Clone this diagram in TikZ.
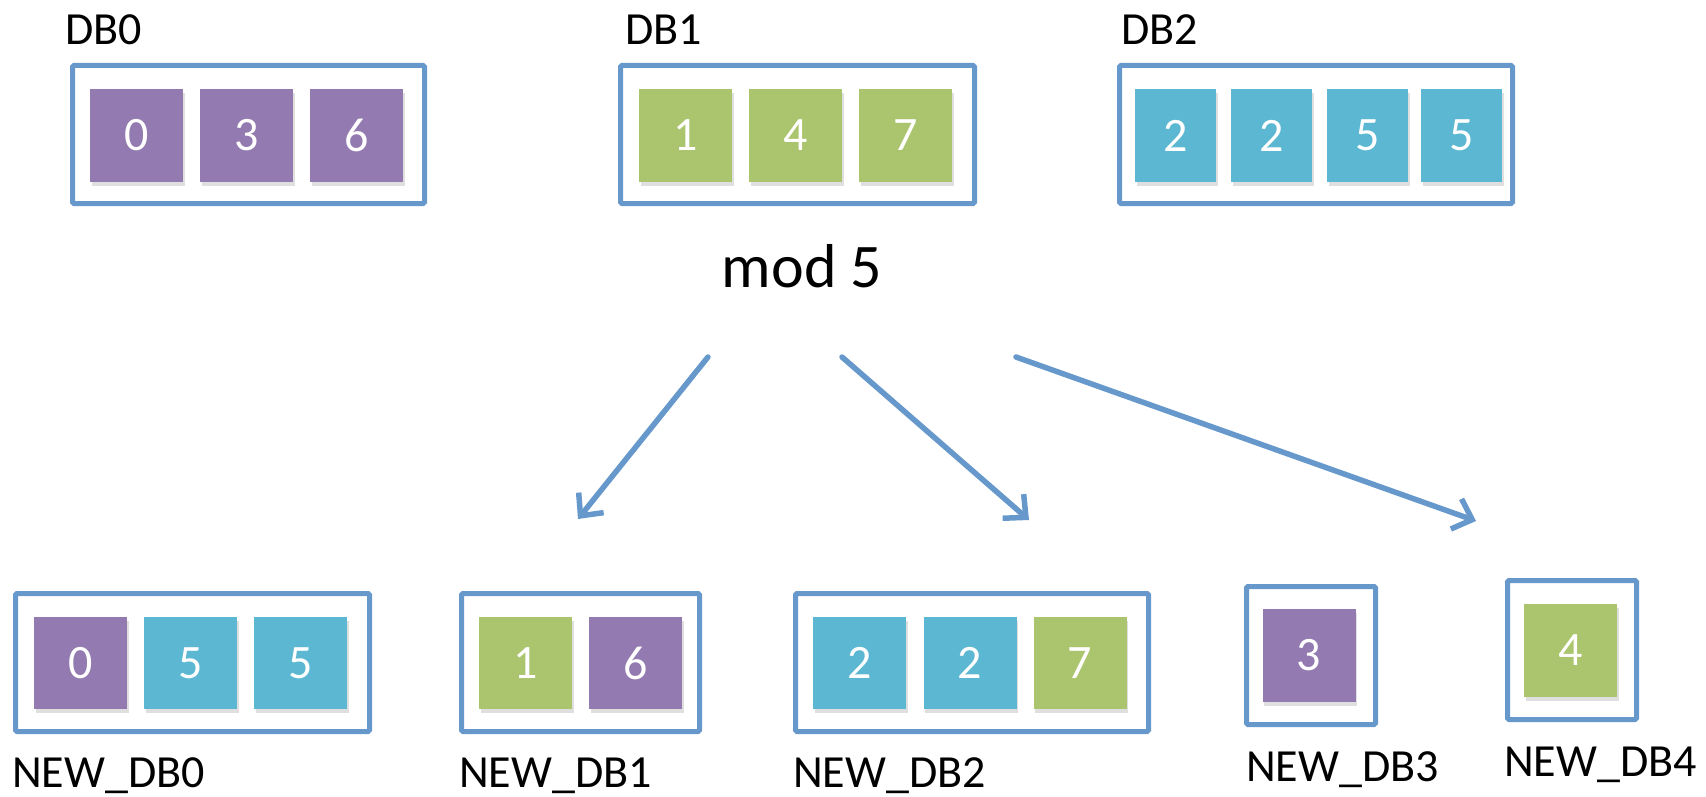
\documentclass[tikz,border=0pt]{standalone}
\usepackage{fontspec}
\setmainfont{Carlito}
\usetikzlibrary{arrows.meta,shadows}
\definecolor{cpurple}{HTML}{937AB0}
\definecolor{cgreen}{HTML}{ABC46E}
\definecolor{ccyan}{HTML}{5CB8D2}
\definecolor{cblue}{HTML}{6698CB}
\tikzset{
  cell/.style={rectangle, draw=none, text=white, inner sep=0pt,
    minimum height=93pt, minimum width=93pt,
    font=\fontsize{48}{52}\selectfont,
    drop shadow={opacity=0.25, shadow xshift=1.5pt, shadow yshift=-4pt}},
  pcell/.style={cell, fill=cpurple},
  gcell/.style={cell, fill=cgreen},
  ccell/.style={cell, fill=ccyan},
  dbbox/.style={rectangle, draw=cblue, line width=5pt, rounded corners=1.5pt, inner sep=0pt},
  dblabel/.style={anchor=base west, inner sep=0pt, font=\fontsize{46}{50}\selectfont},
  flow/.style={draw=cblue, line width=5.5pt, line cap=round,
    -{Straight Barb[length=17pt,width=32pt,line width=5.5pt]}}
}
\begin{document}
\begin{tikzpicture}[x=1pt,y=-1pt]
\useasboundingbox (0,0) rectangle (1706,797);
% top row
\node[dbbox, minimum width=352pt, minimum height=138pt] (db0) at (248.5,134.5) {};
\node[pcell] (a0) at (136.5,135.5) {0};
\node[pcell] (a1) at (246.5,135.5) {3};
\node[pcell] (a2) at (356.5,135.5) {6};
\node[dblabel] (l0) at (65,45) {DB0};

\node[dbbox, minimum width=354pt, minimum height=138pt] (db1) at (797.5,134.5) {};
\node[gcell] (b0) at (685.5,135.5) {1};
\node[gcell] (b1) at (795.5,135.5) {4};
\node[gcell] (b2) at (905.5,135.5) {7};
\node[dblabel] (l1) at (625,45) {DB1};

\node[dbbox, minimum width=393pt, minimum height=138pt] (db2) at (1316,134.5) {};
\node[ccell, minimum width=81pt] (c0) at (1175.5,135.5) {2};
\node[ccell, minimum width=81pt] (c1) at (1271.5,135.5) {2};
\node[ccell, minimum width=81pt] (c2) at (1367.5,135.5) {5};
\node[ccell, minimum width=81pt] (c3) at (1461.5,135.5) {5};
\node[dblabel] (l2) at (1121,45) {DB2};

\node[anchor=base, inner sep=0pt, font=\fontsize{62}{66}\selectfont] (mod) at (802,287) {mod 5};

% arrows
\coordinate (s1) at (708,357);
\coordinate (e1) at (578,519);
\coordinate (s2) at (842,357);
\coordinate (e2) at (1029,520);
\coordinate (s3) at (1016,357);
\coordinate (e3) at (1476,521);
\draw[flow] (s1) -- (e1);
\draw[flow] (s2) -- (e2);
\draw[flow] (s3) -- (e3);

% bottom row
\node[dbbox, minimum width=354pt, minimum height=138pt] (n0) at (192.5,662.5) {};
\node[pcell, minimum height=92pt] (d0) at (80.5,663) {0};
\node[ccell, minimum height=92pt] (d1) at (190.5,663) {5};
\node[ccell, minimum height=92pt] (d2) at (300.5,663) {5};
\node[dblabel] (m0) at (12,787) {NEW\_DB0};

\node[dbbox, minimum width=238pt, minimum height=138pt] (n1) at (580.5,662.5) {};
\node[gcell, minimum height=92pt] (e10) at (525.5,663) {1};
\node[pcell, minimum height=92pt] (e11) at (635.5,663) {6};
\node[dblabel] (m1) at (459,787) {NEW\_DB1};

\node[dbbox, minimum width=353pt, minimum height=138pt] (n2) at (972,662.5) {};
\node[ccell, minimum height=92pt] (f0) at (859.5,663) {2};
\node[ccell, minimum height=92pt] (f1) at (970,663) {2};
\node[gcell, minimum height=92pt] (f2) at (1080,663) {7};
\node[dblabel] (m2) at (793,787) {NEW\_DB2};

\node[dbbox, minimum width=129pt, minimum height=138pt] (n3) at (1311,655.5) {};
\node[pcell] (g0) at (1309,655.5) {3};
\node[dblabel] (m3) at (1246,781) {NEW\_DB3};

\node[dbbox, minimum width=129pt, minimum height=139pt] (n4) at (1572,650) {};
\node[gcell] (h0) at (1570.5,650.5) {4};
\node[dblabel] (m4) at (1504,776) {NEW\_DB4};
\end{tikzpicture}
\end{document}
